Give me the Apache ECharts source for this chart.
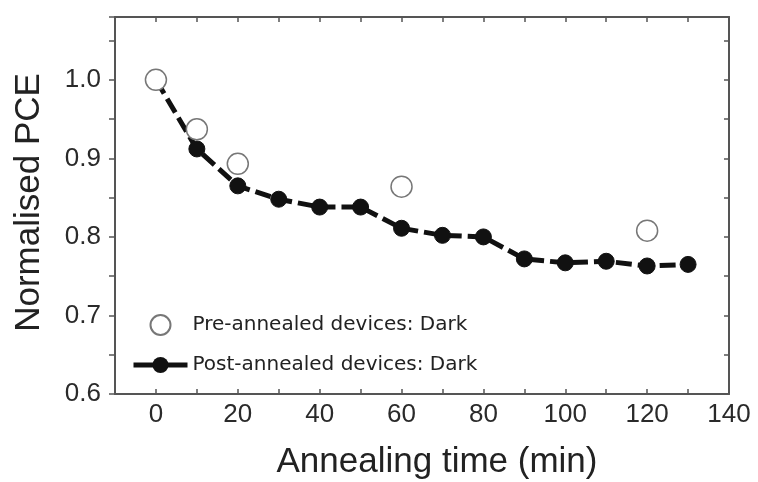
<!DOCTYPE html>
<html>
<head>
<meta charset="utf-8">
<script src="https://cdn.jsdelivr.net/npm/echarts@6/dist/echarts.min.js"></script>
<style>
  html, body { margin: 0; padding: 0; background: #fff; }
  #chart { width: 758px; height: 482px; }
</style>
</head>
<body>
<div id="chart"></div>
<script>
// annealing time (min)
var postTime = [0, 10, 20, 30, 40, 50, 60, 70, 80, 90, 100, 110, 120, 130];
var postPCE = [1.0, 0.912, 0.865, 0.848, 0.838, 0.838, 0.811, 0.802, 0.800, 0.772, 0.767, 0.769, 0.763, 0.765];
var preTime = [0, 10, 20, 60, 120];
var prePCE = [1.0, 0.937, 0.893, 0.864, 0.808];

var preName = "Pre-annealed devices: Dark";
var postName = "Post-annealed devices: Dark";

var chart = echarts.init(document.getElementById("chart"));

var frame = { show: true, onZero: false, lineStyle: { color: "#555", width: 2 } };
var tickIn = { show: true, inside: true, length: 5, lineStyle: { color: "#555", width: 1.5 } };
var tickOut = { show: true, inside: false, length: 6, lineStyle: { color: "#555", width: 1.5 } };

function pair(xs, ys) {
  return xs.map(function (x, i) { return [x, ys[i]]; });
}

var option = {
  animation: false,
  backgroundColor: "#fff",
  grid: { left: 115, right: 29, top: 17, bottom: 88, outerBoundsMode: "none" },
  legend: {
    orient: "vertical",
    left: 126,
    top: 309,
    itemWidth: 54,
    itemHeight: 20,
    itemGap: 19,
    textStyle: { fontFamily: "DejaVu Sans", fontSize: 20, color: "#222" },
    data: [
      { name: preName },
      { name: postName, lineStyle: { type: "solid", width: 5 } }
    ]
  },
  xAxis: [
    {
      type: "value",
      min: -10,
      max: 140,
      interval: 10,
      position: "bottom",
      name: "Annealing time (min)",
      nameLocation: "middle",
      nameGap: 51,
      nameTextStyle: { fontFamily: "Liberation Sans, Arial", fontSize: 35, color: "#222", padding: [0, 0, 0, 30] },
      axisLine: frame,
      axisTick: tickIn,
      splitLine: { show: false },
      axisLabel: {
        margin: 8,
        fontFamily: "Liberation Sans, Arial",
        fontSize: 26,
        color: "#2a2a2a",
        formatter: function (v) { return (v % 20 === 0 && v >= 0) ? String(v) : ""; }
      }
    },
    {
      type: "value",
      min: -10,
      max: 140,
      interval: 10,
      position: "top",
      axisLine: frame,
      axisTick: tickIn,
      axisLabel: { show: false },
      splitLine: { show: false }
    }
  ],
  yAxis: [
    {
      type: "value",
      min: 0.6,
      max: 1.08,
      interval: 0.05,
      position: "left",
      name: "Normalised PCE",
      nameLocation: "middle",
      nameGap: 68,
      nameTextStyle: { fontFamily: "Liberation Sans, Arial", fontSize: 35, color: "#222", padding: [0, 0, 0, 6] },
      axisLine: frame,
      axisTick: tickOut,
      splitLine: { show: false },
      axisLabel: {
        margin: 14,
        fontFamily: "Liberation Sans, Arial",
        fontSize: 26,
        color: "#2a2a2a",
        formatter: function (v) {
          var t = v * 10;
          return Math.abs(t - Math.round(t)) < 1e-6 ? v.toFixed(1) : "";
        }
      }
    },
    {
      type: "value",
      min: 0.6,
      max: 1.08,
      interval: 0.05,
      position: "right",
      axisLine: frame,
      axisTick: tickIn,
      axisLabel: { show: false },
      splitLine: { show: false }
    }
  ],
  series: [
    {
      name: postName,
      type: "line",
      data: pair(postTime, postPCE),
      symbol: "circle",
      symbolSize: 16,
      z: 2,
      lineStyle: { color: "#111", width: 5, type: [16, 6] },
      itemStyle: { color: "#111", borderColor: "#111" }
    },
    {
      name: preName,
      type: "scatter",
      data: pair(preTime, prePCE),
      symbol: "circle",
      symbolSize: 21,
      z: 3,
      itemStyle: { color: "#fff", opacity: 1, borderColor: "#777", borderWidth: 1.5 }
    }
  ]
};

chart.setOption(option);
</script>
</body>
</html>
